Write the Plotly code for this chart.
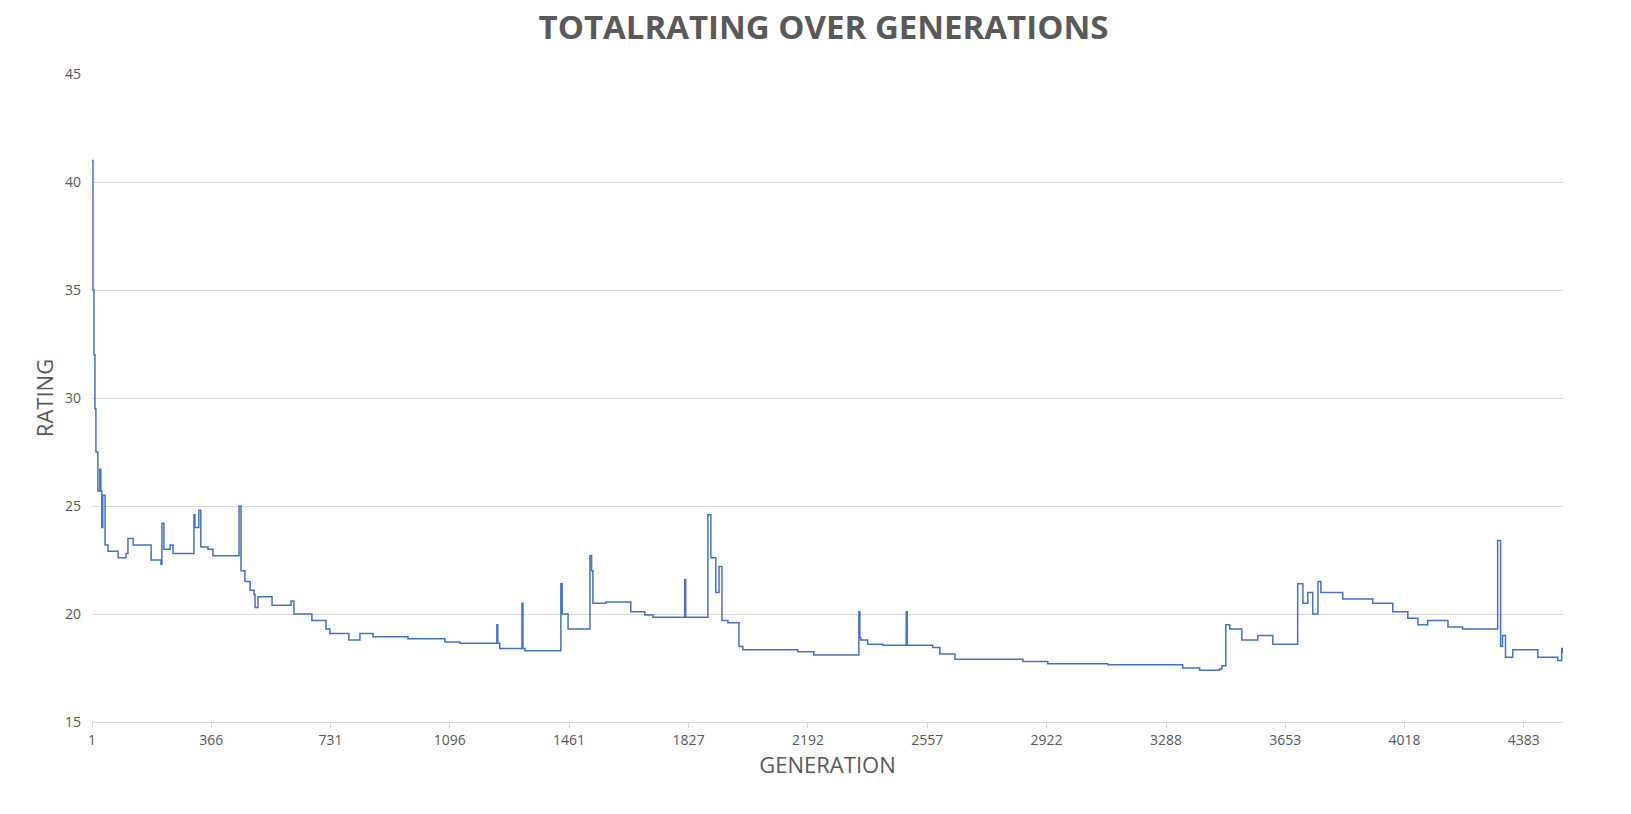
import plotly.graph_objects as go

# step breakpoints: (generation, rating); spikes return on next point
generation = [1, 4, 7, 10, 13, 19, 25, 28, 31, 34, 41, 50, 81, 105, 111, 127, 182, 212, 215, 221,
              240, 249, 313, 316, 328, 334, 356, 371, 451, 457, 469, 485, 497, 500, 509, 552,
              610, 619, 631, 674, 717, 729, 787, 821, 861, 968, 1081, 1127, 1240, 1243, 1249, 1317,
              1320, 1326, 1436, 1440, 1458, 1525, 1530, 1534, 1574, 1650, 1693, 1718, 1815, 1818,
              1876, 1886, 1895, 1910, 1920, 1929, 1947, 1981, 1993, 2161, 2210, 2348, 2351, 2354,
              2375, 2421, 2493, 2496, 2574, 2596, 2642, 2850, 2926, 3110, 3339, 3391, 3452, 3459,
              3471, 3483, 3520, 3569, 3615, 3691, 3707, 3722, 3737, 3753, 3762, 3829, 3921, 3982,
              4028, 4059, 4089, 4151, 4196, 4303, 4312, 4318, 4327, 4349, 4426, 4487, 4499, 4502]
rating = [41.0, 35.0, 32.0, 29.5, 27.5, 25.7, 26.7, 25.7, 24.0, 25.5, 23.2, 22.9, 22.6, 22.8, 23.5,
          23.2, 22.5, 22.3, 24.2, 23.0, 23.2, 22.8, 24.6, 24.0, 24.8, 23.1, 23.0, 22.7, 25.0, 22.0,
          21.5, 21.1, 20.9, 20.3, 20.8, 20.4, 20.6, 20.0, 20.0, 19.7, 19.3, 19.1, 18.8, 19.1, 18.95,
          18.85, 18.7, 18.65, 19.5, 18.65, 18.4, 20.5, 18.4, 18.3, 21.4, 20.0, 19.3, 22.7, 22.0, 20.5,
          20.55, 20.1, 19.95, 19.85, 21.6, 19.85, 19.85, 24.6, 22.6, 21.0, 22.2, 19.7, 19.6, 18.5,
          18.35, 18.25, 18.1, 20.1, 18.9, 18.8, 18.6, 18.55, 20.1, 18.55, 18.45, 18.15, 17.9, 17.8,
          17.7, 17.65, 17.5, 17.4, 17.45, 17.6, 19.5, 19.3, 18.8, 19.0, 18.6, 21.4, 20.5, 21.0, 20.0,
          21.5, 21.0, 20.7, 20.5, 20.1, 19.8, 19.5, 19.7, 19.4, 19.3, 23.4, 18.5, 19.0, 18.0, 18.35,
          18.0, 17.85, 18.4, 18.2]
tick_labels = [1, 366, 731, 1096, 1461, 1827, 2192, 2557, 2922, 3288, 3653, 4018, 4383]

grey = "#595959"
fig = go.Figure(go.Scatter(x=generation, y=rating, mode="lines", line_shape="hv",
                           line=dict(color="#4472C4", width=1.5)))
fig.update_layout(
    width=1631, height=814, plot_bgcolor="white", paper_bgcolor="white",
    margin=dict(l=84, r=76, t=66, b=100), showlegend=False,
    font=dict(family="Open Sans, Liberation Sans, sans-serif", color=grey),
    title=dict(text="<b>TOTALRATING OVER GENERATIONS</b>", x=0.5, y=0.99, yanchor="top",
               font=dict(size=33, color=grey)),
)
fig.update_xaxes(range=[1, 4503], tickvals=tick_labels, ticktext=[str(t) for t in tick_labels],
                 showgrid=False, zeroline=False, showline=True, linecolor="#d9d9d9",
                 ticks="outside", ticklen=5, tickcolor="#d9d9d9", tickfont=dict(size=14),
                 title=dict(text="GENERATION", font=dict(size=22), standoff=8))
fig.update_yaxes(range=[15, 45], dtick=5, gridcolor="#d9d9d9", zeroline=False,
                 tickfont=dict(size=14), ticks="", ticklabelstandoff=10,
                 title=dict(text="RATING", font=dict(size=22), standoff=5))
fig.write_html("out.html")
